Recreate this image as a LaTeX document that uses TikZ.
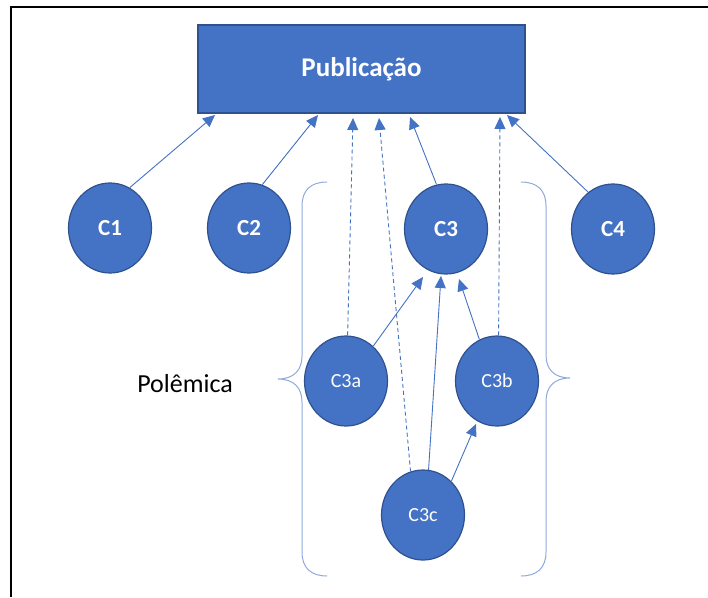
\documentclass[tikz,border=0pt]{standalone}
\usepackage{fontspec}
\setmainfont{Carlito}
\usetikzlibrary{arrows.meta,shapes.geometric}
\definecolor{fillb}{HTML}{4472C4}
\definecolor{edgeb}{HTML}{2F528F}
\definecolor{lineb}{HTML}{4472C4}
\definecolor{braceb}{HTML}{8FAADC}
\begin{document}
\begin{tikzpicture}[x=1pt,y=-1pt,
  circ/.style={ellipse, fill=fillb, draw=edgeb, line width=1.2pt, inner sep=0pt, minimum width=83pt, minimum height=90pt, text=white},
  topc/.style={circ, font=\bfseries\fontsize{23}{26}\selectfont},
  subc/.style={circ, font=\fontsize{20}{24}\selectfont},
  link/.style={draw=lineb, line width=0.9pt, -{Triangle[length=12pt,width=11pt]}},
  dlink/.style={link, dash pattern=on 4pt off 3pt},
  bracel/.style={draw=braceb, line width=1pt}]
\useasboundingbox (0,0) rectangle (708,597);
\fill[white] (0,0) rectangle (708,597);
\draw[line width=2pt] (11,597) -- (11,7) -- (708,7);

\node[draw=edgeb, fill=fillb, line width=1.2pt, minimum width=327pt, minimum height=88pt, inner sep=0pt, text=white, font=\bfseries\fontsize{27}{30}\selectfont] (pub) at (361.5,69) {Publicação};

\node[topc] (c1) at (110,228) {C1};
\node[topc] (c2) at (249,228) {C2};
\node[topc] (c3) at (446,229) {C3};
\node[topc] (c4) at (613,229) {C4};
\node[subc] (c3a) at (346,381) {C3a};
\node[subc] (c3b) at (497,381) {C3b};
\node[subc] (c3c) at (423,515) {C3c};

\node[font=\fontsize{26}{30}\selectfont] (pol) at (185,384) {Polêmica};

% arrow tip coordinates
\coordinate (p1) at (215,115);
\coordinate (p2) at (318,115);
\coordinate (p3a) at (353,118);
\coordinate (p3c) at (379,118);
\coordinate (p3) at (410,117);
\coordinate (p3b) at (500,117);
\coordinate (p4) at (507,115);
\coordinate (q3a) at (423,277);
\coordinate (q3c) at (441,276);
\coordinate (q3b) at (459,279);
\coordinate (r3b) at (476,424);

\draw[link] (c1.64) -- (p1);
\draw[link] (c2.73) -- (p2);
\draw[link] (c3.102) -- (p3);
\draw[link] (c4.124) -- (p4);
\draw[dlink] (c3a.88) -- (p3a);
\draw[dlink] (c3c.106) -- (p3c);
\draw[dlink] (c3b.88) -- (p3b);
\draw[link] (c3a.52) -- (q3a);
\draw[link] (c3c.83) -- (q3c);
\draw[link] (c3b.113) -- (q3b);
\draw[link] (c3c.50) -- (r3b);

% braces
\draw[bracel] (327,182) .. controls (311,182) and (302,190) .. (302,206) -- (302,356)
  .. controls (302,370) and (294,379) .. (278,379)
  .. controls (294,379) and (302,388) .. (302,402) -- (302,552)
  .. controls (302,568) and (311,576) .. (327,576);
\draw[bracel] (521,182) .. controls (537,182) and (546,190) .. (546,206) -- (546,355)
  .. controls (546,369) and (554,378) .. (570,378)
  .. controls (554,378) and (546,387) .. (546,401) -- (546,552)
  .. controls (546,568) and (537,576) .. (521,576);
\end{tikzpicture}
\end{document}
